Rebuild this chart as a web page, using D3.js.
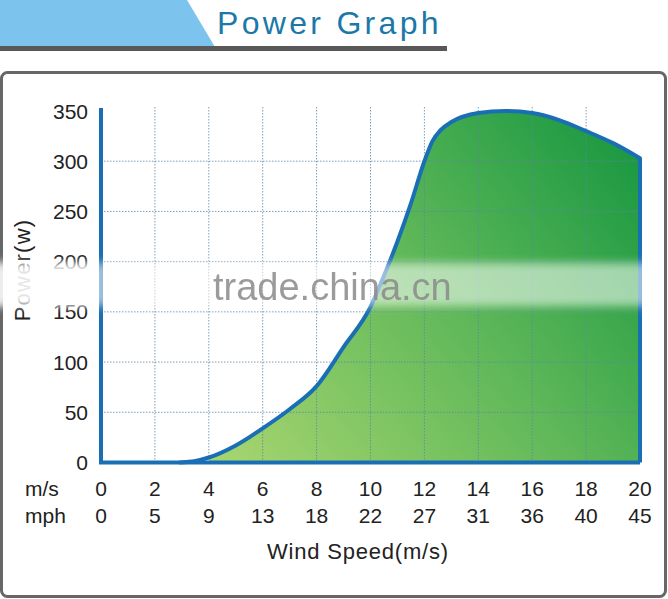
<!DOCTYPE html>
<html><head><meta charset="utf-8">
<script src="https://cdn.jsdelivr.net/npm/d3@7"></script>
<style>body{margin:0;background:#fff;}svg{display:block;}</style>
</head><body>
<script>
// ---- data ----
const windSpeed = [2.9, 3.5, 4, 5, 6, 7, 8, 9, 10, 10.5, 11, 11.5, 12, 12.3, 12.6, 13, 14, 15, 16, 17, 18, 19, 20];
const power     = [0,   1.5, 5, 17, 34, 53, 76, 115, 155, 186, 220, 258, 300, 320, 331, 339, 348, 350, 348, 341, 330, 318, 303];
const msTicks   = [0, 2, 4, 6, 8, 10, 12, 14, 16, 18, 20];
const mphTicks  = [0, 5, 9, 13, 18, 22, 27, 31, 36, 40, 45];
const yTicks    = [0, 50, 100, 150, 200, 250, 300, 350];
const fillStart = 4;

const W = 668, H = 599;
const svg = d3.select("body").append("svg").attr("width", W).attr("height", H);
const font = "'Liberation Sans', Arial, sans-serif";

// title
svg.append("polygon").attr("points", "0,0 187,0 215,47 0,47").attr("fill", "#7cc4ee");
svg.append("rect").attr("x", 0).attr("y", 46).attr("width", 447).attr("height", 5).attr("fill", "#585858");
svg.append("text").attr("x", 217).attr("y", 34).attr("font-family", font).attr("font-size", 32)
  .attr("letter-spacing", 3.3).attr("fill", "#1b78a8").text("Power Graph");

// frame
svg.append("rect").attr("x", 1.5).attr("y", 72.5).attr("width", 664).attr("height", 524).attr("rx", 6)
  .attr("fill", "#fff").attr("stroke", "#676767").attr("stroke-width", 3);

const x = d3.scaleLinear().domain([0, 20]).range([101, 640]);
const y = d3.scaleLinear().domain([0, 350]).range([462.5, 111]);

// gradient
const defs = svg.append("defs");
const grad = defs.append("linearGradient").attr("id", "g").attr("gradientUnits", "userSpaceOnUse")
  .attr("x1", x(4)).attr("y1", y(0)).attr("x2", x(20)).attr("y2", y(350));
grad.append("stop").attr("offset", 0).attr("stop-color", "#a9d670");
grad.append("stop").attr("offset", 0.5).attr("stop-color", "#62b95a");
grad.append("stop").attr("offset", 1).attr("stop-color", "#13953f");
const blur = defs.append("filter").attr("id", "blur").attr("x", "-5%").attr("y", "-50%").attr("width", "110%").attr("height", "200%");
blur.append("feGaussianBlur").attr("stdDeviation", 4);

const pts = windSpeed.map((d, i) => [d, power[i]]);
const curve = d3.curveMonotoneX;

// fill
const area = d3.area().x(d => x(d[0])).y0(y(0)).y1(d => y(d[1])).curve(curve);
const fillPts = pts.filter(d => d[0] >= fillStart);
svg.append("path").attr("d", area(fillPts)).attr("fill", "url(#g)");

// grid
const gridColor = "#5a86a8";
svg.append("g").selectAll("line").data(msTicks.filter(d => d > 0 && d < 20)).join("line")
  .attr("x1", d => x(d)).attr("x2", d => x(d)).attr("y1", y(0)).attr("y2", 107)
  .attr("stroke", gridColor).attr("stroke-width", 1).attr("stroke-dasharray", "1.5,1.5").attr("opacity", 0.8);
svg.append("g").selectAll("line").data(yTicks.filter(d => d > 0 && d < 350)).join("line")
  .attr("x1", x(0)).attr("x2", x(20)).attr("y1", d => y(d)).attr("y2", d => y(d))
  .attr("stroke", gridColor).attr("stroke-width", 1).attr("stroke-dasharray", "1.5,1.5").attr("opacity", 0.8);

// curve + right edge
const line = d3.line().x(d => x(d[0])).y(d => y(d[1])).curve(curve);
const blue = "#1a6fb4";
svg.append("path").attr("d", line(pts) + "L" + x(20) + "," + y(0))
  .attr("fill", "none").attr("stroke", blue).attr("stroke-width", 4).attr("stroke-linejoin", "round");

// axes
svg.append("path").attr("d", `M${x(0)},108L${x(0)},${y(0)}L${x(20)},${y(0)}`)
  .attr("fill", "none").attr("stroke", blue).attr("stroke-width", 4);

// y tick labels
svg.append("g").selectAll("text").data(yTicks).join("text")
  .attr("x", 88).attr("y", d => y(d) + 7.5).attr("text-anchor", "end")
  .attr("font-family", font).attr("font-size", 21).attr("fill", "#222").text(d => d);

// x tick labels
svg.append("g").selectAll("text").data(msTicks).join("text")
  .attr("x", d => x(d)).attr("y", 496).attr("text-anchor", "middle")
  .attr("font-family", font).attr("font-size", 21).attr("fill", "#222").text(d => d);
svg.append("g").selectAll("text").data(mphTicks).join("text")
  .attr("x", (d, i) => x(msTicks[i])).attr("y", 523).attr("text-anchor", "middle")
  .attr("font-family", font).attr("font-size", 21).attr("fill", "#222").text(d => d);
svg.append("text").attr("x", 25).attr("y", 496).attr("font-family", font).attr("font-size", 21).attr("fill", "#222").text("m/s");
svg.append("text").attr("x", 25).attr("y", 523).attr("font-family", font).attr("font-size", 21).attr("fill", "#222").text("mph");

// axis titles
svg.append("text").attr("x", 358).attr("y", 559).attr("text-anchor", "middle")
  .attr("font-family", font).attr("font-size", 22).attr("letter-spacing", 0.8).attr("fill", "#222").text("Wind Speed(m/s)");
svg.append("text").attr("transform", "translate(30,270) rotate(-90)").attr("text-anchor", "middle")
  .attr("font-family", font).attr("font-size", 22).attr("letter-spacing", 1.2).attr("fill", "#222").text("Power(w)");

// watermark band
svg.append("rect").attr("x", -10).attr("y", 263).attr("width", 665).attr("height", 43)
  .attr("fill", "#fff").attr("opacity", 0.55).attr("filter", "url(#blur)");
svg.append("rect").attr("x", -10).attr("y", 264).attr("width", 104).attr("height", 41)
  .attr("fill", "#fff").attr("opacity", 0.75).attr("filter", "url(#blur)");
svg.append("text").attr("x", 213).attr("y", 300).attr("font-family", font).attr("font-size", 38)
  .attr("fill", "#8a8a8a").attr("opacity", 0.85).text("trade.china.cn");
</script>
</body></html>
